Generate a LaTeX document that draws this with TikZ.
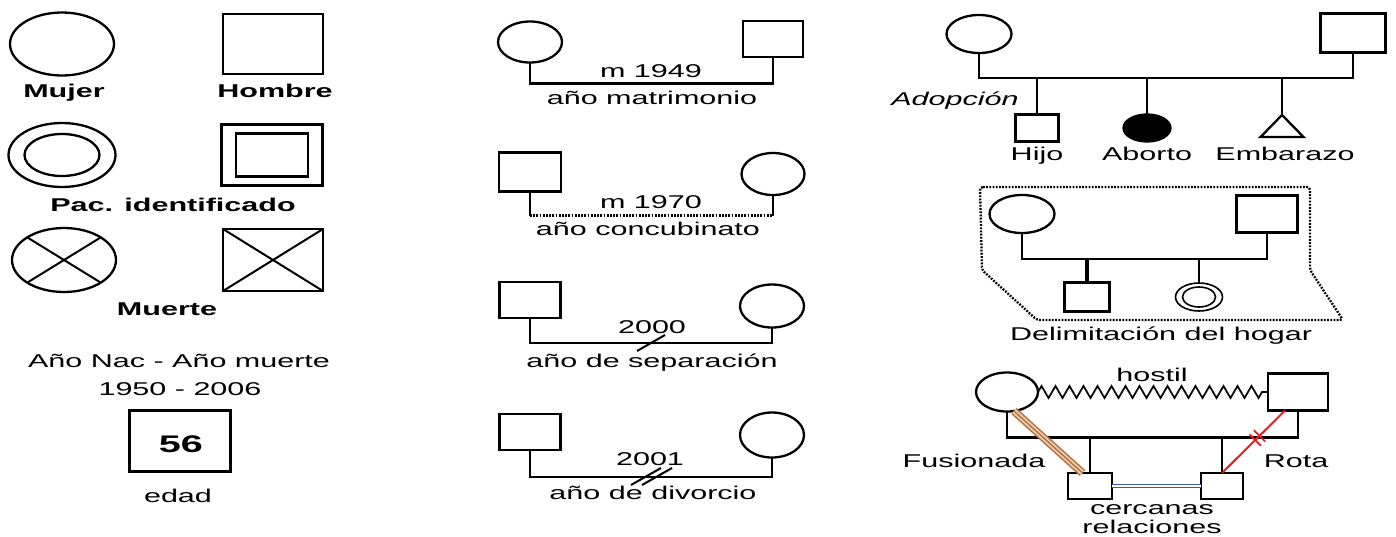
\documentclass[tikz,border=0pt]{standalone}
\usepackage{fontspec}
\setmainfont{Liberation Sans}
\usetikzlibrary{shapes.geometric,decorations.pathmorphing,decorations.markings}

\definecolor{cafe}{RGB}{176,112,64}
\definecolor{cafeclaro}{RGB}{236,204,172}
\definecolor{azulrel}{RGB}{60,90,170}
\definecolor{rojorel}{RGB}{232,30,30}

\tikzset{
  forma/.style={draw, line width=2.3pt, inner sep=0pt, outer sep=0pt},
  mujer/.style 2 args={forma, ellipse, minimum width=#1pt, minimum height=#2pt},
  hombre/.style 2 args={forma, rectangle, minimum width=#1pt, minimum height=#2pt},
  lazo/.style={line width=2.6pt},
  punteado/.style={line width=2.3pt, dash pattern=on 1.8pt off 1.4pt},
  etiqueta/.style={font=\fontsize{18.5}{20}\selectfont, xscale=1.65, inner sep=0pt, anchor=base},
  negrita/.style={etiqueta, font=\fontsize{18.5}{20}\selectfont\bfseries},
}

\begin{document}
\begin{tikzpicture}[x=1pt, y=-1pt]
  \useasboundingbox (0,0) rectangle (1396,536);

  % Simbolos basicos
  \node[mujer={104}{63}] (muj) at (62,44) {};
  \node[hombre={100}{60}] (hom) at (273,44) {};
  \node[negrita] (tmuj) at (64,97) {Mujer};
  \node[negrita] (thom) at (275,97) {Hombre};
  % Paciente identificado
  \node[mujer={107}{64}] (pacm) at (62,155) {};
  \node[mujer={75}{42}] (pacmi) at (62,155) {};
  \node[hombre={101}{61}] (pach) at (272,155) {};
  \node[hombre={72}{43}] (pachi) at (272,155) {};
  \node[negrita] (tpac) at (173,211) {Pac. identificado};
  % Muerte
  \node[mujer={104}{64}] (mm) at (64,260) {};
  \node[hombre={100}{62}] (mh) at (273,260) {};
  \draw[line width=2pt] (mm.north west) -- (mm.south east) (mm.north east) -- (mm.south west);
  \draw[line width=2pt] (mh.north west) -- (mh.south east) (mh.north east) -- (mh.south west);
  \node[negrita] (tmue) at (167,315) {Muerte};
  % Fechas y edad
  \node[etiqueta] (tnac) at (179,367) {Año Nac - Año muerte};
  \node[etiqueta] (tfec) at (180,395) {1950 - 2006};
  \node[hombre={101}{61}] (edad) at (180,441) {};
  \node[etiqueta, font=\fontsize{24}{26}\selectfont\bfseries] (t56) at (181,452) {56};
  \node[etiqueta] (tedad) at (178,502) {edad};

  % Matrimonio
  \node[mujer={64}{41}] (m1) at (530,42) {};
  \node[hombre={60}{36}] (h1) at (773,39) {};
  \draw[lazo] (m1.south) -- ++(0,21) -| (h1.south);
  \node[etiqueta] (tm1) at (651,77) {m 1949};
  \node[etiqueta] (tam1) at (652,104) {año matrimonio};
  % Concubinato
  \node[hombre={62}{39}] (h2) at (530,172) {};
  \node[mujer={63}{42}] (m2) at (773,174) {};
  \draw[lazo] (h2.south) -- ++(0,24) coordinate (u2a);
  \draw[lazo] (m2.south) -- (m2.south |- u2a) coordinate (u2b);
  \draw[punteado] (u2a) -- (u2b);
  \node[etiqueta] (tm2) at (651,208) {m 1970};
  \node[etiqueta] (tam2) at (648,235) {año concubinato};
  % Separacion
  \node[hombre={61}{36}] (h3) at (530,300) {};
  \node[mujer={64}{43}] (m3) at (772,306) {};
  \draw[lazo] (h3.south) -- ++(0,25) -| coordinate[pos=0.25] (sep) (m3.south);
  \draw[line width=2pt] (sep) ++(-14,8) -- ++(28,-16);
  \node[etiqueta] (tm3) at (652,333) {2000};
  \node[etiqueta] (tam3) at (652,367) {año de separación};
  % Divorcio
  \node[hombre={61}{36}] (h4) at (530,432) {};
  \node[mujer={64}{45}] (m4) at (772,435) {};
  \draw[lazo] (h4.south) -- ++(0,27) -| coordinate[pos=0.25] (div) (m4.south);
  \draw[line width=2pt] (div) ++(-20,8) -- ++(30,-17);
  \draw[line width=2pt] (div) ++(-9,8) -- ++(30,-17);
  \node[etiqueta] (tm4) at (650,465) {2001};
  \node[etiqueta] (tam4) at (653,499) {año de divorcio};

  % Hijos
  \node[mujer={65}{38}] (mp) at (979,34) {};
  \node[hombre={65}{39}] (hp) at (1353,33) {};
  \draw[lazo] (mp.south) -- ++(0,25) coordinate (bar) -| (hp.south);
  \node[hombre={43}{27}] (hijo) at (1037,128) {};
  \node[mujer={47}{27}, fill=black] (abor) at (1147,128) {};
  \coordinate (emb) at (1282,115);
  \draw[line width=2.3pt] (emb) -- ++(21.5,22) -- ++(-43,0) -- cycle;
  \draw[lazo] (hijo.north) -- (hijo.north |- bar);
  \draw[lazo] (abor.north) -- (abor.north |- bar);
  \draw[lazo] (emb) -- (emb |- bar);
  \node[etiqueta, font=\fontsize{18.5}{20}\selectfont\itshape] (tadop) at (955,105) {Adopción};
  \node[etiqueta] (thijo) at (1037,160) {Hijo};
  \node[etiqueta] (tabor) at (1147,160) {Aborto};
  \node[etiqueta] (temb) at (1285,160) {Embarazo};

  % Hogar
  \draw[punteado, rounded corners=3pt] (980,187) -- (1310,187) -- (1310,270) -- (1343,320)
    -- (1037,320) -- (982,270) -- cycle;
  \node[mujer={65}{38}] (mh1) at (1022,214) {};
  \node[hombre={61}{37}] (hh1) at (1267,214) {};
  \draw[lazo] (mh1.south) -- ++(0,26) coordinate (barh) -| (hh1.south);
  \node[hombre={45}{29}] (kh1) at (1087,297) {};
  \node[mujer={47}{28}, line width=1.6pt] (kh2) at (1199,297) {};
  \node[mujer={33}{20}, line width=1.6pt] (kh2i) at (1199,297) {};
  \draw[line width=3.4pt] (kh1.north) -- (kh1.north |- barh);
  \draw[line width=1.8pt] (kh2.north) -- (kh2.north |- barh);
  \node[etiqueta] (thog) at (1161,340) {Delimitación del hogar};

  % Relaciones
  \node[mujer={62}{39}] (mr) at (1007,392) {};
  \node[hombre={60}{37}] (hr) at (1298,392) {};
  \draw[line width=1.7pt, decorate, decoration={zigzag, segment length=14pt, amplitude=6pt}] (mr.east) -- (hr.west);
  \node[etiqueta] (thos) at (1152,381) {hostil};
  \draw[lazo] (mr.south) -- ++(0,26) coordinate (barr) -| (hr.south);
  \node[hombre={44}{26}] (kr1) at (1090,486) {};
  \node[hombre={42}{26}] (kr2) at (1222,486) {};
  \draw[lazo] (kr1.north) -- (kr1.north |- barr);
  \draw[lazo] (kr2.north) -- (kr2.north |- barr);
  % fusionada
  \draw[cafe, line width=8pt] (mr.-70) -- (kr1.120);
  \draw[cafeclaro, line width=5pt] (mr.-70) -- (kr1.120);
  \draw[cafe, line width=1.3pt] (mr.-70) -- (kr1.120);
  % rota
  \draw[rojorel, line width=2pt, postaction={decorate},
    decoration={markings, mark=at position 0.44 with {\draw[line width=1.8pt] (-3,-8) -- (-3,8) (3,-8) -- (3,8);}}]
    (hr.-125) -- (kr2.north);
  % cercanas
  \draw[azulrel, line width=1.3pt, double=white, double distance=2pt] (kr1.east) -- (kr2.west);
  \node[etiqueta] (tfus) at (974,467) {Fusionada};
  \node[etiqueta] (trota) at (1296,467) {Rota};
  \node[etiqueta] (tcer) at (1152,514) {cercanas};
  \node[etiqueta] (trel) at (1152,533) {relaciones};
\end{tikzpicture}
\end{document}
